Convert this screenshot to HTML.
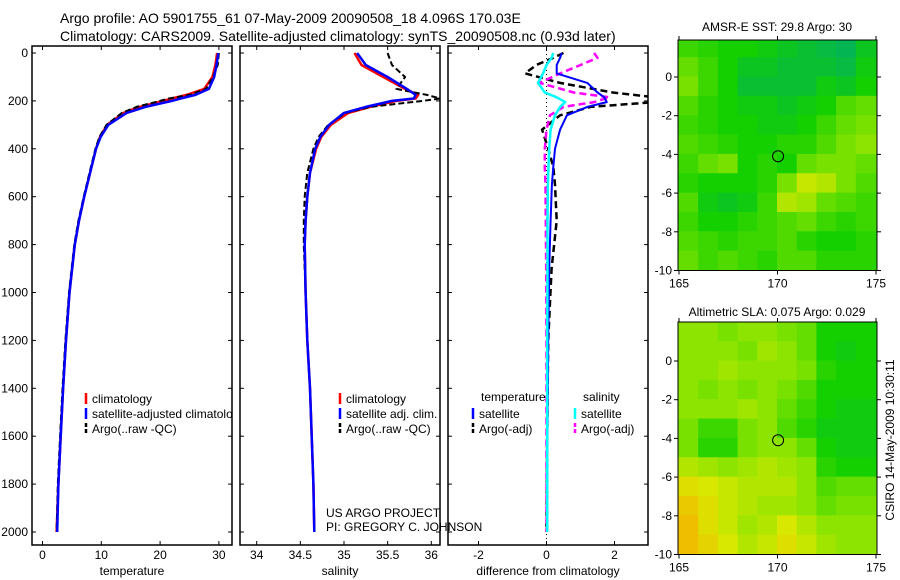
<!DOCTYPE html>
<html><head><meta charset="utf-8">
<style>
html,body{margin:0;padding:0;background:#fff;}
svg{display:block;font-family:"Liberation Sans",sans-serif;}
</style></head>
<body>
<svg id="fig" width="900" height="580" viewBox="0 0 900 580" xmlns="http://www.w3.org/2000/svg">
<text x="60" y="23" font-size="14">Argo profile: AO 5901755_61 07-May-2009 20090508_18 4.096S 170.03E</text>
<text x="60" y="41" font-size="14">Climatology: CARS2009. Satellite-adjusted climatology: synTS_20090508.nc (0.93d later)</text>
<g id="g1"></g>
<g id="g2"></g>
<g id="g3"></g>
<g id="m1"></g>
<g id="m2"></g>
<text transform="translate(894,440) rotate(-90)" text-anchor="middle" font-size="12">CSIRO 14-May-2009 10:30:11</text>
</svg>
<script>
const depths=[0,50,100,150,175,190,200,225,250,300,350,400,500,600,700,800,1000,1200,1400,1600,1800,2000];
const tempClim=[29.7,29.4,28.9,27.5,24.5,22,20.5,16.5,13.8,11,9.8,9.1,8.1,7.1,6.2,5.5,4.6,4.0,3.5,3.1,2.7,2.4];
const tempSat=[29.9,29.6,29.2,28.3,26,23.5,22,17.5,14.3,11.2,9.9,9.1,8.1,7.1,6.2,5.5,4.6,4.0,3.5,3.1,2.7,2.5];
const tempArgo=[30,29.8,29.0,27.8,25,21.5,20,16,13.5,10.9,9.7,9.0,8.0,7.0,6.1,5.4,4.5,3.9,3.4,3.0,2.6,2.4];
const salClim=[35.12,35.2,35.45,35.7,35.85,35.82,35.6,35.3,35.05,34.85,34.74,34.68,34.61,34.58,34.56,34.55,34.56,34.58,34.61,34.63,34.65,34.66];
const salSat=[35.15,35.25,35.5,35.72,35.82,35.8,35.55,35.25,35.0,34.83,34.73,34.67,34.61,34.58,34.56,34.55,34.56,34.58,34.61,34.63,34.65,34.66];
const salArgo=[35.5,35.55,35.7,35.6,35.95,36.1,35.9,35.3,35.02,34.82,34.71,34.65,34.58,34.55,34.54,34.54,34.56,34.58,34.61,34.63,34.65,34.66];
const diffDepths=[0,20,50,85,125,165,185,205,225,260,320,400,475,550,700,900,1200,1600,2000];
const dTempSat=[0.45,0.4,0.3,0.3,1.2,1.5,1.7,1.77,1.2,0.6,0.4,0.25,0.2,0.16,0.12,0.08,0.05,0.03,0.02];
const dSalSat=[0.2,0.15,0,-0.1,-0.25,-0.05,0.3,0.55,0.4,0.25,0.12,0.08,0.06,0.04,0.03,0.03,0.02,0.02,0.02];
const dTempArgo=[0.5,0.2,-0.3,-0.63,0.4,1.95,3.2,3.2,1.3,0.4,-0.13,0.05,0.2,0.25,0.3,0.15,0.05,0.02,0.0];
const dSalArgo=[1.4,1.5,1.0,0.4,-0.2,0.8,1.85,1.4,0.5,0.1,0.0,-0.05,-0.05,-0.03,-0.02,-0.01,0,0,0];
const depthTicks=[0,200,400,600,800,1000,1200,1400,1600,1800,2000];
const tempTicks=[0,10,20,30];
const salTicks=[34,34.5,35,35.5,36];
const diffTicks=[-2,0,2];
const sstGrid=[
[0.4,0.35,0.3,0.3,0.25,0.2,0.15,0.1,0.05,0.2],
[0.5,0.4,0.3,0.2,0.2,0.15,0.15,0.15,0.1,0.25],
[0.55,0.4,0.3,0.15,0.15,0.15,0.15,0.25,0.2,0.3],
[0.45,0.35,0.3,0.25,0.25,0.2,0.25,0.3,0.45,0.5],
[0.4,0.35,0.3,0.3,0.25,0.25,0.3,0.4,0.5,0.55],
[0.45,0.4,0.35,0.3,0.3,0.35,0.35,0.45,0.55,0.6],
[0.4,0.5,0.55,0.3,0.35,0.3,0.5,0.55,0.55,0.5],
[0.35,0.3,0.3,0.3,0.35,0.55,0.75,0.7,0.55,0.45],
[0.45,0.25,0.2,0.25,0.4,0.7,0.65,0.5,0.45,0.4],
[0.4,0.3,0.3,0.35,0.4,0.45,0.5,0.4,0.35,0.4],
[0.45,0.4,0.35,0.4,0.4,0.45,0.35,0.3,0.3,0.35],
[0.5,0.4,0.45,0.4,0.35,0.45,0.45,0.35,0.35,0.35]];
const slaGrid=[
[0.6,0.6,0.55,0.6,0.6,0.55,0.5,0.3,0.3,0.3],
[0.6,0.6,0.6,0.55,0.65,0.6,0.5,0.3,0.25,0.3],
[0.6,0.6,0.65,0.6,0.6,0.6,0.55,0.35,0.3,0.3],
[0.6,0.55,0.6,0.55,0.6,0.55,0.45,0.3,0.3,0.3],
[0.6,0.6,0.6,0.65,0.6,0.5,0.4,0.3,0.25,0.25],
[0.55,0.4,0.4,0.55,0.6,0.45,0.35,0.25,0.25,0.25],
[0.55,0.35,0.35,0.55,0.6,0.6,0.5,0.3,0.25,0.25],
[0.7,0.65,0.6,0.65,0.7,0.65,0.6,0.35,0.3,0.3],
[0.85,0.8,0.75,0.7,0.7,0.7,0.6,0.45,0.5,0.5],
[0.95,0.85,0.75,0.7,0.65,0.65,0.6,0.5,0.55,0.55],
[1.0,0.85,0.75,0.65,0.7,0.8,0.7,0.6,0.6,0.6],
[1.0,0.9,0.8,0.7,0.75,0.85,0.75,0.65,0.6,0.6]];
const lonTicks=[165,170,175];
const latTicks=[0,-2,-4,-6,-8,-10];
const argoLon=170.03, argoLat=-4.096;

const NS="http://www.w3.org/2000/svg";
function mk(parent,tag,attrs,text){const e=document.createElementNS(NS,tag);for(const k in attrs)e.setAttribute(k,attrs[k]);if(text!==undefined)e.textContent=text;parent.appendChild(e);return e;}
const yD=d=>53+d*0.2395;
const PT=46,PB=545;
function panel(g,x0,x1,xs,ticks,label,showY){
  const r=mk(g,'rect',{x:x0,y:PT,width:x1-x0,height:PB-PT,fill:'none',stroke:'#000','stroke-width':1.5});
  
  
  depthTicks.forEach(d=>{const y=yD(d);
    mk(g,'line',{x1:x0,x2:x0+4,y1:y,y2:y,stroke:'#000'});mk(g,'line',{x1:x1-4,x2:x1,y1:y,y2:y,stroke:'#000'});
    if(showY){const t=mk(g,'text',{x:x0-4,y:y+4,'text-anchor':'end','font-size':12},String(d));
      
      }
  });
  ticks.forEach(v=>{const x=xs(v);
    mk(g,'line',{x1:x,x2:x,y1:PB,y2:PB-4,stroke:'#000'});mk(g,'line',{x1:x,x2:x,y1:PT,y2:PT+4,stroke:'#000'});
    const t=mk(g,'text',{x:x,y:559,'text-anchor':'middle','font-size':12},String(v));
    
    
  });
  const t=mk(g,'text',{x:(x0+x1)/2,y:575,'text-anchor':'middle','font-size':12},label);
  
  
}
function series(g,xs,vals,ds,color,w,dash,name,clip){
  const pts=vals.map((v,i)=>xs(v).toFixed(1)+','+yD(ds[i]).toFixed(1)).join(' ');
  const a={points:pts,fill:'none',stroke:color,'stroke-width':w,'stroke-linejoin':'round'};
  if(dash)a['stroke-dasharray']=dash;
  if(clip)a['clip-path']=clip;
  const p=mk(g,'polyline',a);
  
  
}
function legend(g,x,y,color,dash,text,name){
  const a={x1:x,x2:x,y1:y-9,y2:y+2,stroke:color,'stroke-width':2.5};
  if(dash)a['stroke-dasharray']='4,2';
  mk(g,'line',a);
  const t=mk(g,'text',{x:x+6,y:y+1,'font-size':12},text);
  
  
}
const svg=document.getElementById('fig');
const defs=mk(svg,'defs',{});
[[32,232,'c1'],[240,440,'c2'],[448,648,'c3']].forEach(([a,b,id])=>{const c=mk(defs,'clipPath',{id:id});mk(c,'rect',{x:a,y:PT,width:b-a,height:PB-PT});});

const g1=document.getElementById('g1');
const xT=v=>42.5+5.88*v;
series(g1,xT,tempClim,depths,'#f00',2.5,null,'temperature-climatology-line');
series(g1,xT,tempArgo,depths,'#000',2,'6,3','temperature-argo-line');
series(g1,xT,tempSat,depths,'#00f',2.5,null,'temperature-satellite-line');
panel(g1,32,232,xT,tempTicks,'temperature',true);
const lg1=mk(g1,'g',{'clip-path':'url(#c1)'});
legend(lg1,86,402,'#f00',null,'climatology','legend-climatology');
legend(lg1,86,417,'#00f',null,'satellite-adjusted climatology','legend-satellite');
legend(lg1,86,432,'#000',true,'Argo(..raw -QC)','legend-argo');

const g2=document.getElementById('g2');
const xS=v=>256.7+87.3*(v-34);
series(g2,xS,salClim,depths,'#f00',2.5,null,'salinity-climatology-line','url(#c2)');
series(g2,xS,salArgo,depths,'#000',2,'6,3','salinity-argo-line','url(#c2)');
series(g2,xS,salSat,depths,'#00f',2.5,null,'salinity-satellite-line','url(#c2)');
panel(g2,240,440,xS,salTicks,'salinity',false);
legend(g2,340,402,'#f00',null,'climatology','legend-climatology');
legend(g2,340,417,'#00f',null,'satellite adj. clim.','legend-satellite');
legend(g2,340,432,'#000',true,'Argo(..raw -QC)','legend-argo');
let t=mk(g2,'text',{x:326,y:517,'font-size':12},'US ARGO PROJECT');


t=mk(g2,'text',{x:326,y:531,'font-size':12},'PI: GREGORY C. JOHNSON');



const g3=document.getElementById('g3');
const xD=v=>546.5+34*v;
mk(g3,'line',{x1:xD(0),x2:xD(0),y1:PT,y2:PB,stroke:'#000','stroke-dasharray':'1,3'});
series(g3,xD,dTempArgo,diffDepths,'#000',2.5,'7,4','diff-temperature-argo-line','url(#c3)');
series(g3,xD,dSalArgo,diffDepths,'#f0f',2.5,'7,4','diff-salinity-argo-line','url(#c3)');
series(g3,xD,dTempSat,diffDepths,'#00f',2,null,'diff-temperature-satellite-line','url(#c3)');
series(g3,xD,dSalSat,diffDepths,'#0ff',2.5,null,'diff-salinity-satellite-line','url(#c3)');
panel(g3,448,648,xD,diffTicks,'difference from climatology',false);
t=mk(g3,'text',{x:481,y:401,'font-size':12},'temperature');


t=mk(g3,'text',{x:583,y:401,'font-size':12},'salinity');


legend(g3,473,417,'#00f',null,'satellite','legend-temp-satellite');
legend(g3,473,432,'#000',true,'Argo(-adj)','legend-temp-argo');
legend(g3,575,417,'#0ff',null,'satellite','legend-sal-satellite');
legend(g3,575,432,'#f0f',true,'Argo(-adj)','legend-sal-argo');

function col(v){
  const stops=[[0,[0,176,100]],[0.3,[20,208,0]],[0.6,[140,228,0]],[0.8,[216,232,0]],[1,[240,190,0]]];
  for(let i=1;i<stops.length;i++){if(v<=stops[i][0]){const [a,ca]=stops[i-1],[b,cb]=stops[i];const f=(v-a)/(b-a);
    return 'rgb('+ca.map((c,j)=>Math.round(c+(cb[j]-c)*f)).join(',')+')';}}
  return 'rgb(240,190,0)';
}
function map(id,grid,top,lat0y,title,ty){
  const g=document.getElementById(id);
  const xL=lon=>679+19.7*(lon-165);
  const yL=lat=>lat0y-19.35*lat;
  const x0=678,x1=877,y1=yL(-10);
  const c=mk(defs,'clipPath',{id:'clip'+id});mk(c,'rect',{x:x0,y:top,width:x1-x0,height:y1-top});
  const cg=mk(g,'g',{'clip-path':'url(#clip'+id+')'});
  grid.forEach((row,r)=>row.forEach((v,ci)=>{
    const la=2-r;
    const cell=mk(cg,'rect',{x:xL(165+ci)-0.5,y:yL(la)-0.5,width:20.7,height:20.4,fill:col(v)});
    
    
  }));
  const r=mk(g,'rect',{x:x0,y:top,width:x1-x0,height:y1-top,fill:'none',stroke:'#000','stroke-width':1});
  
  
  lonTicks.forEach(l=>{const x=xL(l);mk(g,'line',{x1:x,x2:x,y1:top-4,y2:top,stroke:'#000'});mk(g,'line',{x1:x,x2:x,y1:y1,y2:y1+4,stroke:'#000'});
    const tt=mk(g,'text',{x:x,y:y1+17,'text-anchor':'middle','font-size':12},String(l));
    
    });
  latTicks.forEach(l=>{const y=yL(l);mk(g,'line',{x1:x0-4,x2:x0,y1:y,y2:y,stroke:'#000'});mk(g,'line',{x1:x1,x2:x1+4,y1:y,y2:y,stroke:'#000'});
    const tt=mk(g,'text',{x:x0-6,y:y+4,'text-anchor':'end','font-size':12},String(l));
    
    });
  const ci=mk(g,'circle',{cx:xL(argoLon),cy:yL(argoLat),r:5.5,fill:'none',stroke:'#000','stroke-width':1});
  
  
  const tt=mk(g,'text',{x:777,y:ty,'text-anchor':'middle','font-size':12},title);
  
  
}
map('m1',sstGrid,40,77,'AMSR-E SST: 29.8 Argo: 30',31);
map('m2',slaGrid,322,361,'Altimetric SLA: 0.075 Argo: 0.029',316);
</script>
</body></html>
